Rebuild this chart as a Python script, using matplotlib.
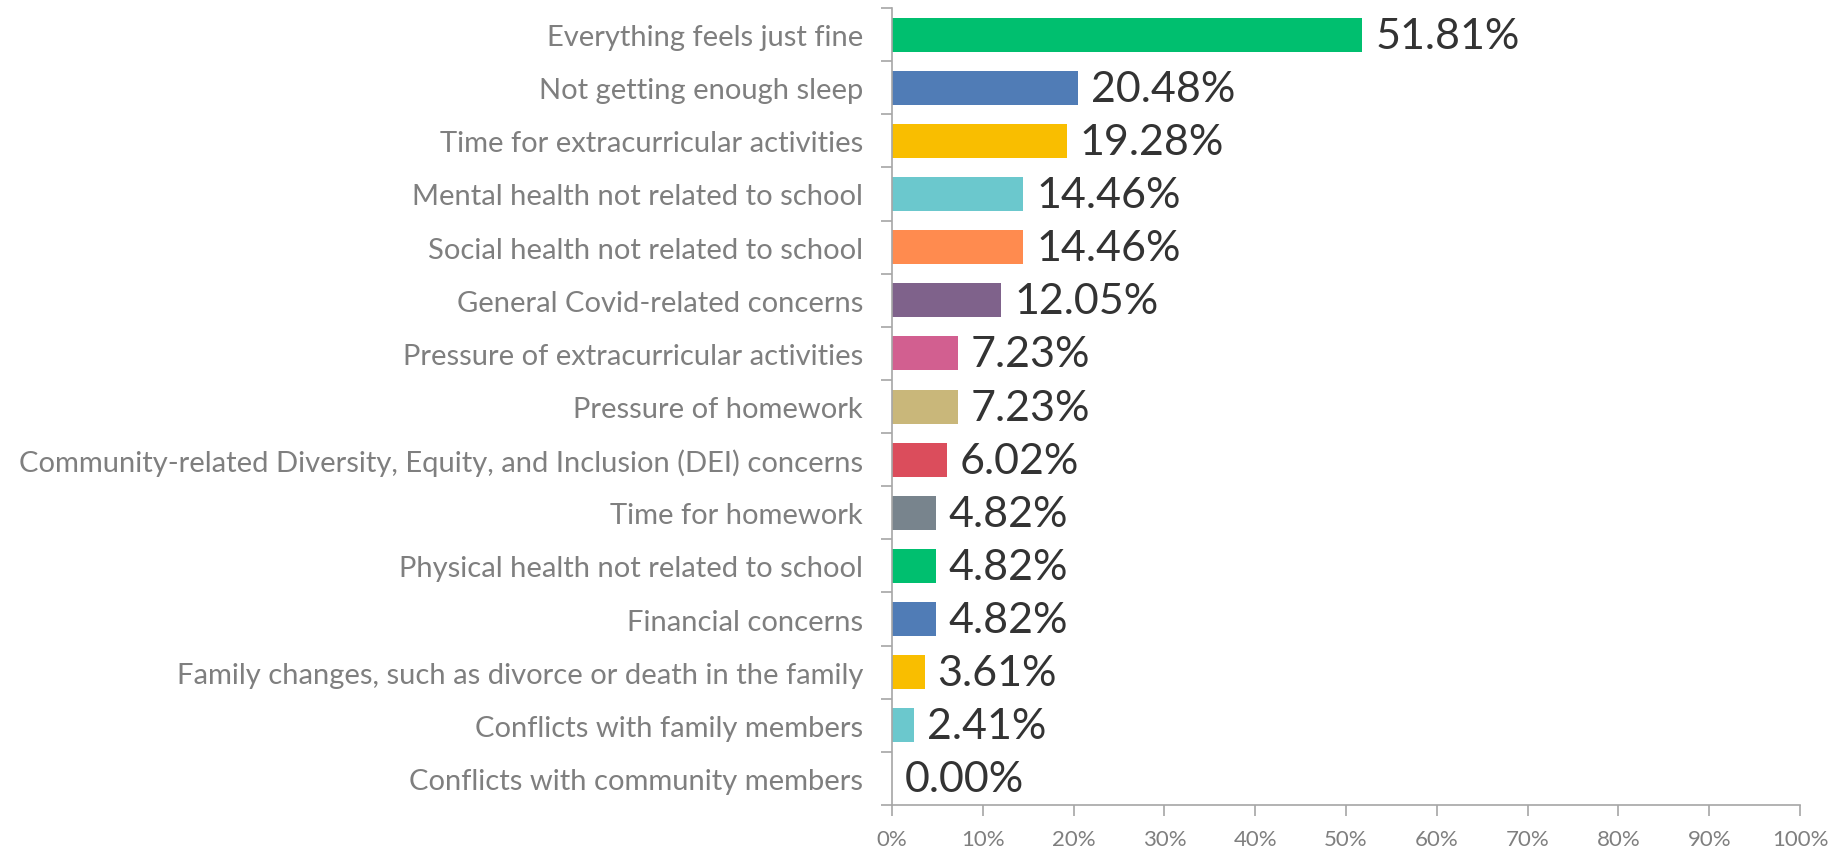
import matplotlib
matplotlib.use("Agg")
import matplotlib.pyplot as plt
import numpy as np

categories = [
    "Everything feels just fine",
    "Not getting enough sleep",
    "Time for extracurricular activities",
    "Mental health not related to school",
    "Social health not related to school",
    "General Covid-related concerns",
    "Pressure of extracurricular activities",
    "Pressure of homework",
    "Community-related Diversity, Equity, and Inclusion (DEI) concerns",
    "Time for homework",
    "Physical health not related to school",
    "Financial concerns",
    "Family changes, such as divorce or death in the family",
    "Conflicts with family members",
    "Conflicts with community members",
]
values = [51.81, 20.48, 19.28, 14.46, 14.46, 12.05, 7.23, 7.23, 6.02, 4.82, 4.82, 4.82, 3.61, 2.41, 0.00]
colors = ["#00BF6F", "#507CB6", "#F9BE00", "#6BC8CD", "#FF8B4F", "#7F628B", "#D25F90",
          "#C9B77A", "#DB4D5C", "#78848D", "#00BF6F", "#507CB6", "#F9BE00", "#6BC8CD", "#FF8B4F"]
xticks = list(range(0, 101, 10))

plt.rcParams["font.family"] = ["Lato", "DejaVu Sans"]

fig = plt.figure(figsize=(18.45, 8.53), dpi=100)
ax = fig.add_axes([0.4835, 0.0551, 0.9756 - 0.4835, 0.9894 - 0.0551])

y = np.arange(len(categories))
ax.barh(y, values, height=0.64, color=colors)
for yi, v in zip(y, values):
    ax.text(v + 1.4, yi + 0.02, f"{v:.2f}%", va="center", ha="left", fontsize=31, color="#333333")

ax.set_ylim(len(categories) - 0.5, -0.5)
ax.set_xlim(0, 100)
ax.set_yticks(y)
ax.set_yticklabels(categories, fontsize=21, color="#7F7F7F")
ax.set_yticks(np.arange(-0.5, len(categories), 1), minor=True)
ax.tick_params(axis="y", which="major", length=0, pad=21)
ax.tick_params(axis="y", which="minor", length=8, color="#A6A6A6", width=1.2)
ax.set_xticks(xticks)
ax.set_xticklabels([f"{t}%" for t in xticks], fontsize=16, color="#7F7F7F")
ax.tick_params(axis="x", length=8, color="#A6A6A6", width=1.2, pad=9)

for s in ["top", "right"]:
    ax.spines[s].set_visible(False)
for s in ["left", "bottom"]:
    ax.spines[s].set_color("#A6A6A6")
    ax.spines[s].set_linewidth(1.2)

fig.savefig("out.png", dpi=100)
